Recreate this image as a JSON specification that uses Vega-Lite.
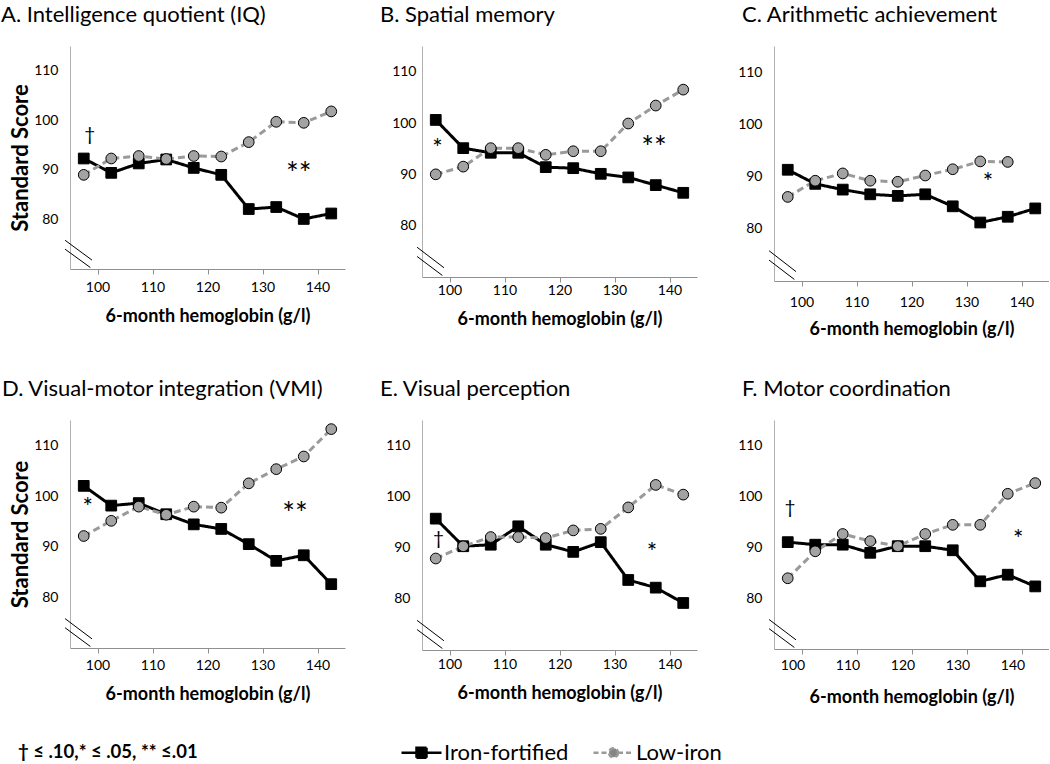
{
  "$schema": "https://vega.github.io/schema/vega-lite/v6.json",
  "background": "white",
  "padding": {"left": 1, "top": 4, "right": 0, "bottom": 0},
  "config": {
    "view": {"stroke": null},
    "font": "Lato",
    "axis": {"labelFont": "Lato", "titleFont": "Lato", "labelColor": "#000000", "titleColor": "#000000", "grid": false},
    "title": {"font": "Lato", "fontSize": 22, "fontWeight": "normal", "color": "#000000", "anchor": "start", "frame": "group", "baseline": "alphabetic", "offset": 19}
  },
  "resolve": {"legend": {"color": "independent"}},
  "datasets": {
    "scores": [
      {"p":"A","g":"Iron-fortified","hb":97.5,"s":92.3},{"p":"A","g":"Iron-fortified","hb":102.5,"s":89.4},{"p":"A","g":"Iron-fortified","hb":107.5,"s":91.3},{"p":"A","g":"Iron-fortified","hb":112.5,"s":92.1},{"p":"A","g":"Iron-fortified","hb":117.5,"s":90.4},{"p":"A","g":"Iron-fortified","hb":122.5,"s":89.0},{"p":"A","g":"Iron-fortified","hb":127.5,"s":82.1},{"p":"A","g":"Iron-fortified","hb":132.5,"s":82.5},{"p":"A","g":"Iron-fortified","hb":137.5,"s":80.1},{"p":"A","g":"Iron-fortified","hb":142.5,"s":81.2},
      {"p":"A","g":"Low-iron","hb":97.5,"s":89.0},{"p":"A","g":"Low-iron","hb":102.5,"s":92.3},{"p":"A","g":"Low-iron","hb":107.5,"s":92.8},{"p":"A","g":"Low-iron","hb":112.5,"s":92.2},{"p":"A","g":"Low-iron","hb":117.5,"s":92.8},{"p":"A","g":"Low-iron","hb":122.5,"s":92.7},{"p":"A","g":"Low-iron","hb":127.5,"s":95.6},{"p":"A","g":"Low-iron","hb":132.5,"s":99.7},{"p":"A","g":"Low-iron","hb":137.5,"s":99.5},{"p":"A","g":"Low-iron","hb":142.5,"s":101.8},
      {"p":"B","g":"Iron-fortified","hb":97.5,"s":100.6},{"p":"B","g":"Iron-fortified","hb":102.5,"s":95.1},{"p":"B","g":"Iron-fortified","hb":107.5,"s":94.2},{"p":"B","g":"Iron-fortified","hb":112.5,"s":94.2},{"p":"B","g":"Iron-fortified","hb":117.5,"s":91.4},{"p":"B","g":"Iron-fortified","hb":122.5,"s":91.2},{"p":"B","g":"Iron-fortified","hb":127.5,"s":90.1},{"p":"B","g":"Iron-fortified","hb":132.5,"s":89.4},{"p":"B","g":"Iron-fortified","hb":137.5,"s":87.9},{"p":"B","g":"Iron-fortified","hb":142.5,"s":86.4},
      {"p":"B","g":"Low-iron","hb":97.5,"s":90.0},{"p":"B","g":"Low-iron","hb":102.5,"s":91.5},{"p":"B","g":"Low-iron","hb":107.5,"s":95.1},{"p":"B","g":"Low-iron","hb":112.5,"s":95.1},{"p":"B","g":"Low-iron","hb":117.5,"s":93.8},{"p":"B","g":"Low-iron","hb":122.5,"s":94.5},{"p":"B","g":"Low-iron","hb":127.5,"s":94.5},{"p":"B","g":"Low-iron","hb":132.5,"s":99.9},{"p":"B","g":"Low-iron","hb":137.5,"s":103.4},{"p":"B","g":"Low-iron","hb":142.5,"s":106.5},
      {"p":"C","g":"Iron-fortified","hb":97.5,"s":91.3},{"p":"C","g":"Iron-fortified","hb":102.5,"s":88.6},{"p":"C","g":"Iron-fortified","hb":107.5,"s":87.5},{"p":"C","g":"Iron-fortified","hb":112.5,"s":86.6},{"p":"C","g":"Iron-fortified","hb":117.5,"s":86.3},{"p":"C","g":"Iron-fortified","hb":122.5,"s":86.6},{"p":"C","g":"Iron-fortified","hb":127.5,"s":84.3},{"p":"C","g":"Iron-fortified","hb":132.5,"s":81.2},{"p":"C","g":"Iron-fortified","hb":137.5,"s":82.3},{"p":"C","g":"Iron-fortified","hb":142.5,"s":83.9},
      {"p":"C","g":"Low-iron","hb":97.5,"s":86.1},{"p":"C","g":"Low-iron","hb":102.5,"s":89.2},{"p":"C","g":"Low-iron","hb":107.5,"s":90.6},{"p":"C","g":"Low-iron","hb":112.5,"s":89.2},{"p":"C","g":"Low-iron","hb":117.5,"s":89.0},{"p":"C","g":"Low-iron","hb":122.5,"s":90.2},{"p":"C","g":"Low-iron","hb":127.5,"s":91.4},{"p":"C","g":"Low-iron","hb":132.5,"s":92.9},{"p":"C","g":"Low-iron","hb":137.5,"s":92.8},
      {"p":"D","g":"Iron-fortified","hb":97.5,"s":102.0},{"p":"D","g":"Iron-fortified","hb":102.5,"s":98.1},{"p":"D","g":"Iron-fortified","hb":107.5,"s":98.6},{"p":"D","g":"Iron-fortified","hb":112.5,"s":96.4},{"p":"D","g":"Iron-fortified","hb":117.5,"s":94.4},{"p":"D","g":"Iron-fortified","hb":122.5,"s":93.5},{"p":"D","g":"Iron-fortified","hb":127.5,"s":90.5},{"p":"D","g":"Iron-fortified","hb":132.5,"s":87.2},{"p":"D","g":"Iron-fortified","hb":137.5,"s":88.3},{"p":"D","g":"Iron-fortified","hb":142.5,"s":82.6},
      {"p":"D","g":"Low-iron","hb":97.5,"s":92.1},{"p":"D","g":"Low-iron","hb":102.5,"s":95.1},{"p":"D","g":"Low-iron","hb":107.5,"s":97.9},{"p":"D","g":"Low-iron","hb":112.5,"s":96.3},{"p":"D","g":"Low-iron","hb":117.5,"s":97.9},{"p":"D","g":"Low-iron","hb":122.5,"s":97.7},{"p":"D","g":"Low-iron","hb":127.5,"s":102.5},{"p":"D","g":"Low-iron","hb":132.5,"s":105.3},{"p":"D","g":"Low-iron","hb":137.5,"s":107.8},{"p":"D","g":"Low-iron","hb":142.5,"s":113.2},
      {"p":"E","g":"Iron-fortified","hb":97.5,"s":95.7},{"p":"E","g":"Iron-fortified","hb":102.5,"s":90.3},{"p":"E","g":"Iron-fortified","hb":107.5,"s":90.6},{"p":"E","g":"Iron-fortified","hb":112.5,"s":94.2},{"p":"E","g":"Iron-fortified","hb":117.5,"s":90.6},{"p":"E","g":"Iron-fortified","hb":122.5,"s":89.2},{"p":"E","g":"Iron-fortified","hb":127.5,"s":91.1},{"p":"E","g":"Iron-fortified","hb":132.5,"s":83.7},{"p":"E","g":"Iron-fortified","hb":137.5,"s":82.2},{"p":"E","g":"Iron-fortified","hb":142.5,"s":79.2},
      {"p":"E","g":"Low-iron","hb":97.5,"s":87.9},{"p":"E","g":"Low-iron","hb":102.5,"s":90.3},{"p":"E","g":"Low-iron","hb":107.5,"s":92.1},{"p":"E","g":"Low-iron","hb":112.5,"s":92.1},{"p":"E","g":"Low-iron","hb":117.5,"s":91.9},{"p":"E","g":"Low-iron","hb":122.5,"s":93.4},{"p":"E","g":"Low-iron","hb":127.5,"s":93.7},{"p":"E","g":"Low-iron","hb":132.5,"s":97.9},{"p":"E","g":"Low-iron","hb":137.5,"s":102.3},{"p":"E","g":"Low-iron","hb":142.5,"s":100.4},
      {"p":"F","g":"Iron-fortified","hb":97.5,"s":91.0},{"p":"F","g":"Iron-fortified","hb":102.5,"s":90.5},{"p":"F","g":"Iron-fortified","hb":107.5,"s":90.5},{"p":"F","g":"Iron-fortified","hb":112.5,"s":88.9},{"p":"F","g":"Iron-fortified","hb":117.5,"s":90.2},{"p":"F","g":"Iron-fortified","hb":122.5,"s":90.2},{"p":"F","g":"Iron-fortified","hb":127.5,"s":89.4},{"p":"F","g":"Iron-fortified","hb":132.5,"s":83.3},{"p":"F","g":"Iron-fortified","hb":137.5,"s":84.6},{"p":"F","g":"Iron-fortified","hb":142.5,"s":82.3},
      {"p":"F","g":"Low-iron","hb":97.5,"s":83.9},{"p":"F","g":"Low-iron","hb":102.5,"s":89.2},{"p":"F","g":"Low-iron","hb":107.5,"s":92.6},{"p":"F","g":"Low-iron","hb":112.5,"s":91.2},{"p":"F","g":"Low-iron","hb":117.5,"s":90.2},{"p":"F","g":"Low-iron","hb":122.5,"s":92.6},{"p":"F","g":"Low-iron","hb":127.5,"s":94.4},{"p":"F","g":"Low-iron","hb":132.5,"s":94.4},{"p":"F","g":"Low-iron","hb":137.5,"s":100.5},{"p":"F","g":"Low-iron","hb":142.5,"s":102.6}
    ],
    "notes": [
      {"p":"A","t":"†","hb":98.6,"s":97.0},{"p":"A","t":"**","hb":136.6,"s":88.9},
      {"p":"B","t":"*","hb":97.8,"s":94.8},{"p":"B","t":"**","hb":137.2,"s":95.0},
      {"p":"C","t":"*","hb":133.9,"s":88.5},
      {"p":"D","t":"*","hb":98.2,"s":97.4},{"p":"D","t":"**","hb":135.9,"s":96.2},
      {"p":"E","t":"†","hb":98.0,"s":91.7},{"p":"E","t":"*","hb":136.8,"s":88.8},
      {"p":"F","t":"†","hb":97.9,"s":97.7},{"p":"F","t":"*","hb":139.4,"s":91.2}
    ],
    "brk": [
      {"hb":94.1,"s":75.8,"hb2":99.0,"s2":71.8},
      {"hb":94.1,"s":74.0,"hb2":98.7,"s2":70.3}
    ]
  },
  "bounds": "flush",
  "columns": 3,
  "spacing": {"row": 139, "column": 77},
  "concat": [
    {
      "width": 275, "height": 223,
      "title": {"text": "A. Intelligence quotient (IQ)", "dx": -69},
      "layer": [
        {"data": {"name": "scores"}, "transform": [{"filter": "datum.p === 'A'"}],
         "mark": {"type": "line", "strokeWidth": 3},
         "encoding": {
           "x": {"field": "hb", "type": "quantitative", "scale": {"domain": [95, 145], "nice": false, "zero": false},
                 "axis": {"title": "6-month hemoglobin (g/l)", "values": [100,105,110,115,120,125,130,135,140], "labelOverlap": "parity", "labelSeparation": 10, "domainColor": "#909090", "tickColor": "#909090", "tickSize": 5, "labelFontSize": 14, "labelPadding": 6, "titleFontSize": 18, "titleFontWeight": "bold", "titlePadding": 13}},
           "y": {"field": "s", "type": "quantitative", "scale": {"domain": [70, 115], "nice": false, "zero": false},
                 "axis": {"title": "Standard Score", "values": [80,90,100,110], "ticks": false, "domainColor": "#b0b0b0", "labelFontSize": 14, "labelPadding": 12, "titleFontSize": 22, "titleFontWeight": "bold", "titlePadding": 1}},
           "color": {"field": "g", "type": "nominal", "scale": {"domain": ["Iron-fortified", "Low-iron"], "range": ["#000000", "#9a9a9a"]}, "legend": null},
           "strokeDash": {"field": "g", "type": "nominal", "scale": {"domain": ["Iron-fortified", "Low-iron"], "range": [[1, 0], [7, 4]]}, "legend": null}
         }},
        {"data": {"name": "scores"}, "transform": [{"filter": "datum.p === 'A'"}],
         "mark": {"type": "point", "filled": true, "stroke": "#000000", "strokeWidth": 1, "size": 115, "opacity": 1},
         "encoding": {
           "x": {"field": "hb", "type": "quantitative"}, "y": {"field": "s", "type": "quantitative"},
           "fill": {"field": "g", "type": "nominal", "scale": {"domain": ["Iron-fortified", "Low-iron"], "range": ["#000000", "#a3a3a3"]}, "legend": null},
           "shape": {"field": "g", "type": "nominal", "scale": {"domain": ["Iron-fortified", "Low-iron"], "range": ["square", "circle"]}, "legend": null}
         }},
        {"data": {"name": "brk"}, "mark": {"type": "rule", "color": "#000000", "strokeWidth": 1},
         "encoding": {"x": {"field": "hb", "type": "quantitative"}, "y": {"field": "s", "type": "quantitative"}, "x2": {"field": "hb2"}, "y2": {"field": "s2"}}},
        {"data": {"name": "notes"}, "transform": [{"filter": "datum.p === 'A'"}],
         "mark": {"type": "text", "font": "Lato", "color": "#000000", "baseline": "middle", "align": "center"},
         "encoding": {"x": {"field": "hb", "type": "quantitative"}, "y": {"field": "s", "type": "quantitative"}, "text": {"field": "t"},
           "size": {"field": "t", "type": "ordinal", "scale": {"domain": ["†", "*", "**"], "range": [19, 30, 30]}, "legend": null}}}
      ]
    },
    {
      "width": 275, "height": 231,
      "title": {"text": "B. Spatial memory", "dx": -42},
      "layer": [
        {"data": {"name": "scores"}, "transform": [{"filter": "datum.p === 'B'"}],
         "mark": {"type": "line", "strokeWidth": 3},
         "encoding": {
           "x": {"field": "hb", "type": "quantitative", "scale": {"domain": [95, 145], "nice": false, "zero": false},
                 "axis": {"title": "6-month hemoglobin (g/l)", "values": [100,105,110,115,120,125,130,135,140], "labelOverlap": "parity", "labelSeparation": 10, "domainColor": "#909090", "tickColor": "#909090", "tickSize": 5, "labelFontSize": 14, "labelPadding": 1, "titleFontSize": 18, "titleFontWeight": "bold", "titlePadding": 13}},
           "y": {"field": "s", "type": "quantitative", "scale": {"domain": [70, 115], "nice": false, "zero": false},
                 "axis": {"title": null, "values": [80,90,100,110], "ticks": false, "domainColor": "#b0b0b0", "labelFontSize": 14, "labelPadding": 6}},
           "color": {"field": "g", "type": "nominal", "scale": {"domain": ["Iron-fortified", "Low-iron"], "range": ["#000000", "#9a9a9a"]}, "legend": null},
           "strokeDash": {"field": "g", "type": "nominal", "scale": {"domain": ["Iron-fortified", "Low-iron"], "range": [[1, 0], [7, 4]]}, "legend": null}
         }},
        {"data": {"name": "scores"}, "transform": [{"filter": "datum.p === 'B'"}],
         "mark": {"type": "point", "filled": true, "stroke": "#000000", "strokeWidth": 1, "size": 115, "opacity": 1},
         "encoding": {
           "x": {"field": "hb", "type": "quantitative"}, "y": {"field": "s", "type": "quantitative"},
           "fill": {"field": "g", "type": "nominal", "scale": {"domain": ["Iron-fortified", "Low-iron"], "range": ["#000000", "#a3a3a3"]}, "legend": null},
           "shape": {"field": "g", "type": "nominal", "scale": {"domain": ["Iron-fortified", "Low-iron"], "range": ["square", "circle"]}, "legend": null}
         }},
        {"data": {"name": "brk"}, "mark": {"type": "rule", "color": "#000000", "strokeWidth": 1},
         "encoding": {"x": {"field": "hb", "type": "quantitative"}, "y": {"field": "s", "type": "quantitative"}, "x2": {"field": "hb2"}, "y2": {"field": "s2"}}},
        {"data": {"name": "notes"}, "transform": [{"filter": "datum.p === 'B'"}],
         "mark": {"type": "text", "font": "Lato", "color": "#000000", "baseline": "middle", "align": "center"},
         "encoding": {"x": {"field": "hb", "type": "quantitative"}, "y": {"field": "s", "type": "quantitative"}, "text": {"field": "t"},
           "size": {"field": "t", "type": "ordinal", "scale": {"domain": ["†", "*", "**"], "range": [19, 30, 30]}, "legend": null}}}
      ]
    },
    {
      "width": 275, "height": 235,
      "title": {"text": "C. Arithmetic achievement", "dx": -32},
      "layer": [
        {"data": {"name": "scores"}, "transform": [{"filter": "datum.p === 'C'"}],
         "mark": {"type": "line", "strokeWidth": 3},
         "encoding": {
           "x": {"field": "hb", "type": "quantitative", "scale": {"domain": [95, 145], "nice": false, "zero": false},
                 "axis": {"title": "6-month hemoglobin (g/l)", "values": [100,105,110,115,120,125,130,135,140], "labelOverlap": "parity", "labelSeparation": 10, "domainColor": "#909090", "tickColor": "#909090", "tickSize": 5, "labelFontSize": 14, "labelPadding": 9, "titleFontSize": 18, "titleFontWeight": "bold", "titlePadding": 11}},
           "y": {"field": "s", "type": "quantitative", "scale": {"domain": [70, 115], "nice": false, "zero": false},
                 "axis": {"title": null, "values": [80,90,100,110], "ticks": false, "domainColor": "#b0b0b0", "labelFontSize": 14, "labelPadding": 12}},
           "color": {"field": "g", "type": "nominal", "scale": {"domain": ["Iron-fortified", "Low-iron"], "range": ["#000000", "#9a9a9a"]}, "legend": null},
           "strokeDash": {"field": "g", "type": "nominal", "scale": {"domain": ["Iron-fortified", "Low-iron"], "range": [[1, 0], [7, 4]]}, "legend": null}
         }},
        {"data": {"name": "scores"}, "transform": [{"filter": "datum.p === 'C'"}],
         "mark": {"type": "point", "filled": true, "stroke": "#000000", "strokeWidth": 1, "size": 115, "opacity": 1},
         "encoding": {
           "x": {"field": "hb", "type": "quantitative"}, "y": {"field": "s", "type": "quantitative"},
           "fill": {"field": "g", "type": "nominal", "scale": {"domain": ["Iron-fortified", "Low-iron"], "range": ["#000000", "#a3a3a3"]}, "legend": null},
           "shape": {"field": "g", "type": "nominal", "scale": {"domain": ["Iron-fortified", "Low-iron"], "range": ["square", "circle"]}, "legend": null}
         }},
        {"data": {"name": "brk"}, "mark": {"type": "rule", "color": "#000000", "strokeWidth": 1},
         "encoding": {"x": {"field": "hb", "type": "quantitative"}, "y": {"field": "s", "type": "quantitative"}, "x2": {"field": "hb2"}, "y2": {"field": "s2"}}},
        {"data": {"name": "notes"}, "transform": [{"filter": "datum.p === 'C'"}],
         "mark": {"type": "text", "font": "Lato", "color": "#000000", "baseline": "middle", "align": "center"},
         "encoding": {"x": {"field": "hb", "type": "quantitative"}, "y": {"field": "s", "type": "quantitative"}, "text": {"field": "t"},
           "size": {"field": "t", "type": "ordinal", "scale": {"domain": ["†", "*", "**"], "range": [19, 30, 30]}, "legend": null}}}
      ]
    },
    {
      "width": 275, "height": 228,
      "title": {"text": "D. Visual-motor integration (VMI)", "dx": -68},
      "layer": [
        {"data": {"name": "scores"}, "transform": [{"filter": "datum.p === 'D'"}],
         "mark": {"type": "line", "strokeWidth": 3},
         "encoding": {
           "x": {"field": "hb", "type": "quantitative", "scale": {"domain": [95, 145], "nice": false, "zero": false},
                 "axis": {"title": "6-month hemoglobin (g/l)", "values": [100,105,110,115,120,125,130,135,140], "labelOverlap": "parity", "labelSeparation": 10, "domainColor": "#909090", "tickColor": "#909090", "tickSize": 5, "labelFontSize": 14, "labelPadding": 5, "titleFontSize": 18, "titleFontWeight": "bold", "titlePadding": 13}},
           "y": {"field": "s", "type": "quantitative", "scale": {"domain": [70, 115], "nice": false, "zero": false},
                 "axis": {"title": "Standard Score", "values": [80,90,100,110], "ticks": false, "domainColor": "#b0b0b0", "labelFontSize": 14, "labelPadding": 12, "titleFontSize": 22, "titleFontWeight": "bold", "titlePadding": 1}},
           "color": {"field": "g", "type": "nominal", "scale": {"domain": ["Iron-fortified", "Low-iron"], "range": ["#000000", "#9a9a9a"]}, "legend": null},
           "strokeDash": {"field": "g", "type": "nominal", "scale": {"domain": ["Iron-fortified", "Low-iron"], "range": [[1, 0], [7, 4]]}, "legend": null}
         }},
        {"data": {"name": "scores"}, "transform": [{"filter": "datum.p === 'D'"}],
         "mark": {"type": "point", "filled": true, "stroke": "#000000", "strokeWidth": 1, "size": 115, "opacity": 1},
         "encoding": {
           "x": {"field": "hb", "type": "quantitative"}, "y": {"field": "s", "type": "quantitative"},
           "fill": {"field": "g", "type": "nominal", "scale": {"domain": ["Iron-fortified", "Low-iron"], "range": ["#000000", "#a3a3a3"]}, "legend": null},
           "shape": {"field": "g", "type": "nominal", "scale": {"domain": ["Iron-fortified", "Low-iron"], "range": ["square", "circle"]}, "legend": null}
         }},
        {"data": {"name": "brk"}, "mark": {"type": "rule", "color": "#000000", "strokeWidth": 1},
         "encoding": {"x": {"field": "hb", "type": "quantitative"}, "y": {"field": "s", "type": "quantitative"}, "x2": {"field": "hb2"}, "y2": {"field": "s2"}}},
        {"data": {"name": "notes"}, "transform": [{"filter": "datum.p === 'D'"}],
         "mark": {"type": "text", "font": "Lato", "color": "#000000", "baseline": "middle", "align": "center"},
         "encoding": {"x": {"field": "hb", "type": "quantitative"}, "y": {"field": "s", "type": "quantitative"}, "text": {"field": "t"},
           "size": {"field": "t", "type": "ordinal", "scale": {"domain": ["†", "*", "**"], "range": [19, 30, 30]}, "legend": null}}}
      ]
    },
    {
      "width": 275, "height": 230,
      "title": {"text": "E. Visual perception", "dx": -42},
      "layer": [
        {"data": {"name": "scores"}, "transform": [{"filter": "datum.p === 'E'"}],
         "mark": {"type": "line", "strokeWidth": 3},
         "encoding": {
           "x": {"field": "hb", "type": "quantitative", "scale": {"domain": [95, 145], "nice": false, "zero": false},
                 "axis": {"title": "6-month hemoglobin (g/l)", "values": [100,105,110,115,120,125,130,135,140], "labelOverlap": "parity", "labelSeparation": 10, "domainColor": "#909090", "tickColor": "#909090", "tickSize": 5, "labelFontSize": 14, "labelPadding": 2, "titleFontSize": 18, "titleFontWeight": "bold", "titlePadding": 13}},
           "y": {"field": "s", "type": "quantitative", "scale": {"domain": [70, 115], "nice": false, "zero": false},
                 "axis": {"title": null, "values": [80,90,100,110], "ticks": false, "domainColor": "#b0b0b0", "labelFontSize": 14, "labelPadding": 12}},
           "color": {"field": "g", "type": "nominal", "scale": {"domain": ["Iron-fortified", "Low-iron"], "range": ["#000000", "#9a9a9a"]},
                     "legend": {"orient": "none", "legendX": -404, "legendY": 321, "direction": "horizontal",
                       "title": "† ≤ .10,* ≤ .05, ** ≤.01", "titleOrient": "left", "titleFont": "Lato", "titleFontSize": 18.5, "titleFontWeight": "bold", "titleColor": "#000000", "titleBaseline": "middle", "titlePadding": 212,
                       "symbolSize": 400, "labelFont": "Lato", "labelFontSize": 22, "labelColor": "#000000", "labelOffset": 11, "columnPadding": 19,
                       "encode": {"symbols": {"update": {
                         "shape": {"signal": "datum.value === 'Iron-fortified' ? 'M-2,0H2M-0.5,-0.5H0.5V0.5H-0.5Z' : 'M-2,0H-0.45M0.45,0H2M0.45,0A0.45,0.45 0 1 1 -0.45,0A0.45,0.45 0 1 1 0.45,0Z'"},
                         "fill": {"signal": "datum.value === 'Iron-fortified' ? '#000000' : '#858585'"},
                         "stroke": {"signal": "datum.value === 'Iron-fortified' ? '#000000' : '#a0a0a0'"},
                         "strokeWidth": {"value": 2.5},
                         "strokeDash": {"signal": "datum.value === 'Iron-fortified' ? [1, 0] : [5, 3]"},
                         "opacity": {"value": 1}
                       }}}}},
           "strokeDash": {"field": "g", "type": "nominal", "scale": {"domain": ["Iron-fortified", "Low-iron"], "range": [[1, 0], [7, 4]]}, "legend": null}
         }},
        {"data": {"name": "scores"}, "transform": [{"filter": "datum.p === 'E'"}],
         "mark": {"type": "point", "filled": true, "stroke": "#000000", "strokeWidth": 1, "size": 115, "opacity": 1},
         "encoding": {
           "x": {"field": "hb", "type": "quantitative"}, "y": {"field": "s", "type": "quantitative"},
           "fill": {"field": "g", "type": "nominal", "scale": {"domain": ["Iron-fortified", "Low-iron"], "range": ["#000000", "#a3a3a3"]}, "legend": null},
           "shape": {"field": "g", "type": "nominal", "scale": {"domain": ["Iron-fortified", "Low-iron"], "range": ["square", "circle"]}, "legend": null}
         }},
        {"data": {"name": "brk"}, "mark": {"type": "rule", "color": "#000000", "strokeWidth": 1},
         "encoding": {"x": {"field": "hb", "type": "quantitative"}, "y": {"field": "s", "type": "quantitative"}, "x2": {"field": "hb2"}, "y2": {"field": "s2"}}},
        {"data": {"name": "notes"}, "transform": [{"filter": "datum.p === 'E'"}],
         "mark": {"type": "text", "font": "Lato", "color": "#000000", "baseline": "middle", "align": "center"},
         "encoding": {"x": {"field": "hb", "type": "quantitative"}, "y": {"field": "s", "type": "quantitative"}, "text": {"field": "t"},
           "size": {"field": "t", "type": "ordinal", "scale": {"domain": ["†", "*", "**"], "range": [19, 30, 30]}, "legend": null}}}
      ]
    },
    {
      "width": 275, "height": 229,
      "title": {"text": "F. Motor coordination", "dx": -32},
      "layer": [
        {"data": {"name": "scores"}, "transform": [{"filter": "datum.p === 'F'"}],
         "mark": {"type": "line", "strokeWidth": 3},
         "encoding": {
           "x": {"field": "hb", "type": "quantitative", "scale": {"domain": [95, 145], "nice": false, "zero": false},
                 "axis": {"title": "6-month hemoglobin (g/l)", "values": [100,105,110,115,120,125,130,135,140], "labelOverlap": "parity", "labelSeparation": 10, "domainColor": "#909090", "tickColor": "#909090", "tickSize": 5, "labelFontSize": 14, "labelPadding": 4, "labelOffset": -9, "titleFontSize": 18, "titleFontWeight": "bold", "titlePadding": 16}},
           "y": {"field": "s", "type": "quantitative", "scale": {"domain": [70, 115], "nice": false, "zero": false},
                 "axis": {"title": null, "values": [80,90,100,110], "ticks": false, "domainColor": "#b0b0b0", "labelFontSize": 14, "labelPadding": 12}},
           "color": {"field": "g", "type": "nominal", "scale": {"domain": ["Iron-fortified", "Low-iron"], "range": ["#000000", "#9a9a9a"]}, "legend": null},
           "strokeDash": {"field": "g", "type": "nominal", "scale": {"domain": ["Iron-fortified", "Low-iron"], "range": [[1, 0], [7, 4]]}, "legend": null}
         }},
        {"data": {"name": "scores"}, "transform": [{"filter": "datum.p === 'F'"}],
         "mark": {"type": "point", "filled": true, "stroke": "#000000", "strokeWidth": 1, "size": 115, "opacity": 1},
         "encoding": {
           "x": {"field": "hb", "type": "quantitative"}, "y": {"field": "s", "type": "quantitative"},
           "fill": {"field": "g", "type": "nominal", "scale": {"domain": ["Iron-fortified", "Low-iron"], "range": ["#000000", "#a3a3a3"]}, "legend": null},
           "shape": {"field": "g", "type": "nominal", "scale": {"domain": ["Iron-fortified", "Low-iron"], "range": ["square", "circle"]}, "legend": null}
         }},
        {"data": {"name": "brk"}, "mark": {"type": "rule", "color": "#000000", "strokeWidth": 1},
         "encoding": {"x": {"field": "hb", "type": "quantitative"}, "y": {"field": "s", "type": "quantitative"}, "x2": {"field": "hb2"}, "y2": {"field": "s2"}}},
        {"data": {"name": "notes"}, "transform": [{"filter": "datum.p === 'F'"}],
         "mark": {"type": "text", "font": "Lato", "color": "#000000", "baseline": "middle", "align": "center"},
         "encoding": {"x": {"field": "hb", "type": "quantitative"}, "y": {"field": "s", "type": "quantitative"}, "text": {"field": "t"},
           "size": {"field": "t", "type": "ordinal", "scale": {"domain": ["†", "*", "**"], "range": [19, 30, 30]}, "legend": null}}}
      ]
    }
  ]
}
